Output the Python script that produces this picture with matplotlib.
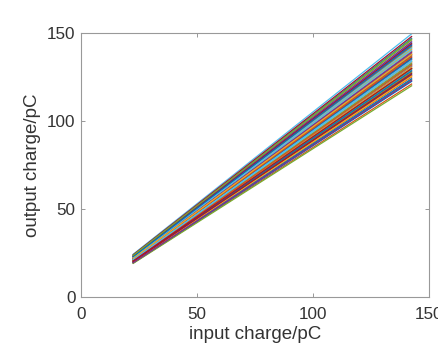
import matplotlib
matplotlib.use("Agg")
import matplotlib.pyplot as plt

# input charge at the two ends of each sweep (pC)
input_charge = [22.5, 142.5]

# output charge at the low / high end of each channel's sweep (pC)
out_start = [20.0, 19.3, 22.0, 20.8, 22.8, 24.3, 21.4, 23.8, 20.4, 22.3, 21.1, 19.6,
             23.2, 20.6, 21.8, 19.8, 22.5, 20.9, 23.6, 20.5, 21.6, 19.4, 22.1, 21.3,
             23.0, 20.1, 20.9, 24.0, 19.7, 21.8, 21.2, 23.4, 20.5, 22.3, 20.0, 21.5,
             22.7, 20.6, 21.9, 19.1, 21.3, 23.1, 20.3, 21.7, 19.9, 22.1, 21.0, 22.5,
             20.1, 22.9, 20.8, 21.9, 19.5, 23.7, 21.2, 20.5]
out_end = [126.5, 121.0, 138.5, 131.0, 142.0, 149.5, 135.0, 147.0, 128.0, 140.5, 133.0, 123.5,
           144.5, 130.0, 137.0, 125.0, 141.0, 132.0, 146.0, 129.0, 136.0, 122.5, 139.5, 134.0,
           143.5, 127.5, 131.5, 148.0, 124.0, 137.5, 133.5, 145.0, 129.5, 140.0, 126.0, 135.5,
           142.5, 130.5, 138.0, 120.0, 134.5, 144.0, 128.5, 136.5, 125.5, 139.0, 132.5, 141.5,
           127.0, 143.0, 131.8, 137.8, 123.0, 146.5, 133.8, 129.8]

matlab_colors = ["#0072BD", "#D95319", "#EDB120", "#7E2F8E",
                 "#77AC30", "#4DBEEE", "#A2142F"]

plt.rcParams["font.family"] = ["Liberation Sans", "DejaVu Sans"]

fig = plt.figure(figsize=(4.39, 3.5), dpi=100)
ax = fig.add_axes([81 / 439, 53 / 350, 348 / 439, 264 / 350])

for i, (y0, y1) in enumerate(zip(out_start, out_end)):
    ax.plot(input_charge, [y0, y1], color=matlab_colors[i % len(matlab_colors)], lw=0.9)

ax.set_xlim(0, 150)
ax.set_ylim(0, 150)
ax.set_xticks([0, 50, 100, 150])
ax.set_yticks([0, 50, 100, 150])
ax.tick_params(direction="in", length=3, width=0.6, colors="#888888",
               labelcolor="#333333", labelsize=12.3, top=True, right=True, pad=4)
ax.tick_params(axis="x", pad=7)
for s in ax.spines.values():
    s.set_color("#999999")
    s.set_linewidth(0.8)

ax.set_xlabel("input charge/pC", fontsize=13.5, color="#333333", labelpad=3)
ax.set_ylabel("output charge/pC", fontsize=13.5, color="#333333")
ax.yaxis.set_label_coords(-0.115, 0.5)

fig.savefig("out.png", dpi=100)
